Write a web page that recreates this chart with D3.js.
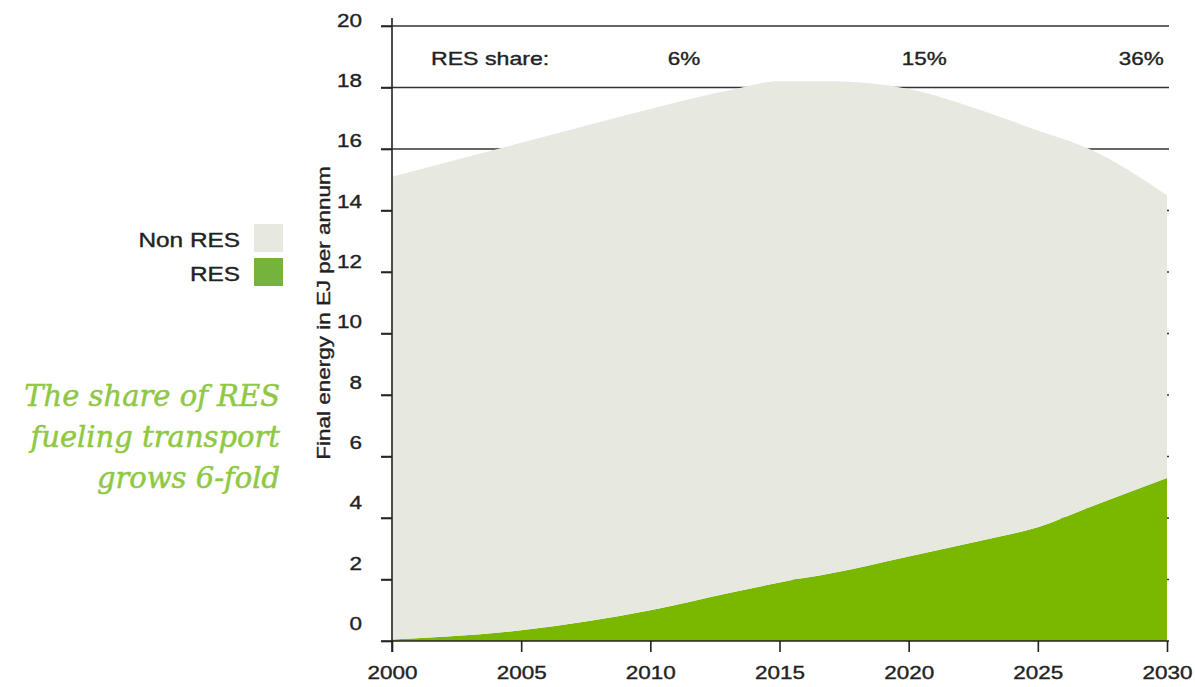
<!DOCTYPE html>
<html>
<head>
<meta charset="utf-8">
<script src="https://cdn.jsdelivr.net/npm/d3@7"></script>
<style>
body{margin:0;background:#fff;}
svg text{font-family:"Liberation Sans",Arial,sans-serif;fill:#222;stroke:#222;stroke-width:0.35px;}
</style>
</head>
<body>
<div id="chart"></div>
<script>
// data (EJ per annum)
const years = [2000,2005,2010,2013,2015,2017,2020,2023,2025,2027,2030];
const res = [0.05,0.35,1.0,1.55,1.9,2.2,2.75,3.3,3.7,4.35,5.3];
const nonRes = [15.05,15.85,16.3,16.35,16.3,16.0,15.2,13.9,12.9,11.65,9.2];
const yTicks = [0,2,4,6,8,10,12,14,16,18,20];
const xTicks = [2000,2005,2010,2015,2020,2025,2030];
const shareLabels = ["6%","15%","36%"];
const shareYears = [2011.3,2020.6,2029];
const legendLabels = ["Non RES","RES"];
const headline = ["The share of RES","fueling transport","grows 6-fold"];

const W=1195,H=687;
const SX=1.25; // text in the picture is drawn wide
const svg=d3.select("#chart").append("svg").attr("width",W).attr("height",H);

const x=d3.scaleLinear().domain([2000,2030]).range([392,1167]);
const y=d3.scaleLinear().domain([0,20]).range([641,26]);
// tick labels drift upward from their ticks toward the bottom
const yLab=d3.scaleLinear().domain([0,20]).range([623,20]);

const rows=years.map((yr,i)=>({year:yr,res:res[i],nonRes:nonRes[i]}));
const stack=d3.stack().keys(["res","nonRes"])(rows);
const colors={res:"#7ab800",nonRes:"#e7e8e0"};

// grid lines sit under the areas
svg.append("g").selectAll("line").data(yTicks.filter(d=>d>0)).join("line")
  .attr("x1",381).attr("x2",1169).attr("y1",d=>y(d)).attr("y2",d=>y(d))
  .attr("stroke","#333").attr("stroke-width",1.6);

const area=d3.area().x(d=>x(d.data.year)).y0(d=>y(d[0])).y1(d=>y(d[1])).curve(d3.curveMonotoneX);
svg.append("g").selectAll("path").data(stack).join("path")
  .attr("fill",d=>colors[d.key]).attr("d",area);

// y axis
const gy=svg.append("g").attr("transform","translate(392,0)")
  .call(d3.axisLeft(y).tickValues(yTicks).tickSize(11).tickSizeOuter(0));
gy.select(".domain").attr("d","M0,18V652").attr("stroke","#222").attr("stroke-width",1.6);
gy.selectAll(".tick line").attr("stroke","#222").attr("stroke-width",1.6);
gy.selectAll(".tick text").attr("x",-30/SX).attr("y",d=>yLab(d)-y(d)).attr("dy","0.35em")
  .attr("transform",`scale(${SX},1)`).style("font-size","18px").style("font-family",null);

// x axis
const gx=svg.append("g").attr("transform",`translate(0,${y(0)})`)
  .call(d3.axisBottom(x).tickValues(xTicks).tickFormat(d3.format("d")).tickSize(11).tickPadding(14).tickSizeOuter(0));
gx.select(".domain").attr("d","M381,0H1169").attr("stroke","#222").attr("stroke-width",1.6);
gx.selectAll(".tick line").attr("stroke","#222").attr("stroke-width",1.6);
gx.selectAll(".tick text").attr("transform",`scale(${SX},1)`).style("font-size","18px").style("font-family",null);

// axis title
svg.append("text").attr("transform",`translate(330,313) rotate(-90) scale(${SX},1)`)
  .attr("text-anchor","middle").style("font-size","18px").text("Final energy in EJ per annum");

// RES share row
svg.append("text").attr("transform",`translate(431,65) scale(${SX},1)`)
  .style("font-size","18.5px").text("RES share:");
svg.append("g").selectAll("text").data(shareLabels).join("text")
  .attr("transform",(d,i)=>`translate(${x(shareYears[i])},65) scale(${SX},1)`)
  .attr("text-anchor","middle").style("font-size","18px").text(d=>d);

// legend
const lg=svg.append("g").selectAll("g").data(legendLabels).join("g")
  .attr("transform",(d,i)=>`translate(254,${224+i*34})`);
lg.append("rect").attr("width",29).attr("height",28).attr("fill",(d,i)=>i===0?"#e7e8e0":"#76b33c");
lg.append("text").attr("transform",`translate(-14,23) scale(${SX},1)`).attr("text-anchor","end")
  .style("font-size","19.5px").text(d=>d);

// green headline
svg.append("g").selectAll("text").data(headline).join("text")
  .attr("x",280).attr("y",(d,i)=>406+i*41).attr("text-anchor","end")
  .style("font-family","'DejaVu Serif',serif").style("font-style","italic")
  .style("font-size","29px").style("fill","#8fc843").style("stroke","#8fc843").style("stroke-width","0.5px")
  .text(d=>d);
</script>
</body>
</html>
